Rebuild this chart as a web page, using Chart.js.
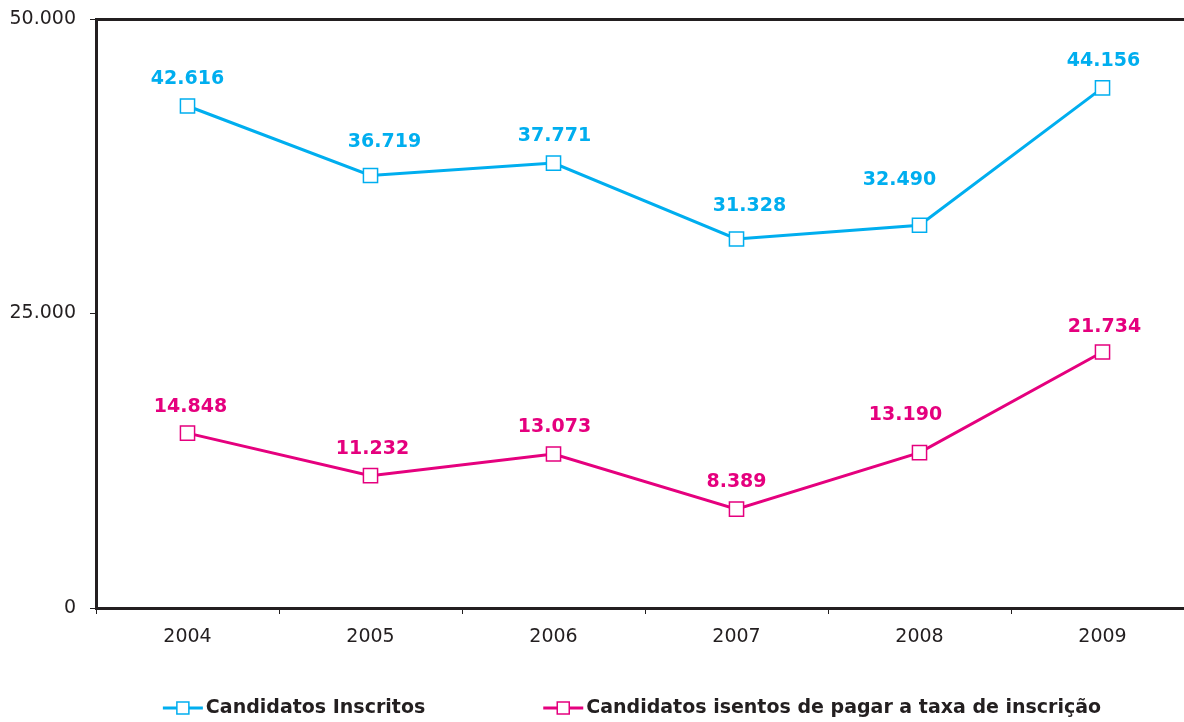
<!DOCTYPE html>
<html lang="pt">
  <head>
    <meta charset="UTF-8" />
    <title>Candidatos</title>
    <style>
      html, body { margin: 0; padding: 0; background: #fff; overflow: hidden; }
    </style>
  </head>
  <body>
    <canvas id="chart" width="1264" height="722" style="width:1264px;height:722px"></canvas>
    <script src="https://cdn.jsdelivr.net/npm/chart.js@4.4.0/dist/chart.umd.min.js"></script>
    <script>
      // data
      const years = ["2004", "2005", "2006", "2007", "2008", "2009"];
      const inscritos = [42616, 36719, 37771, 31328, 32490, 44156];
      const isentos = [14848, 11232, 13073, 8389, 13190, 21734];
      const yTicks = [0, 25000, 50000];

      // label nudges (px) so numbers sit like in the original
      const inscritosLabelShift = [[0, -27], [14, -33], [1, -27], [13, -33], [-20, -45], [1, -27]];
      const isentosLabelShift = [[3, -26], [2, -27], [1, -27], [0, -27], [-14, -38], [2, -25]];

      const blue = "#00aeef";
      const pink = "#e5007e";
      const ink = "#231f20";
      const fam = "'DejaVu Sans', Verdana, sans-serif";

      const fmt = (v) => String(v).replace(/\B(?=(\d{3})+(?!\d))/g, ".");

      const valueLabels = {
        id: "valueLabels",
        afterDatasetsDraw(chart) {
          const ctx = chart.ctx;
          ctx.save();
          ctx.font = "bold 19px " + fam;
          ctx.textAlign = "center";
          ctx.textBaseline = "middle";
          chart.data.datasets.forEach((ds, i) => {
            const meta = chart.getDatasetMeta(i);
            meta.data.forEach((pt, j) => {
              const s = ds.labelShift[j];
              ctx.fillStyle = ds.borderColor;
              ctx.fillText(fmt(ds.data[j]), pt.x + s[0], pt.y + s[1]);
            });
          });
          ctx.restore();
        },
      };

      const bottomLegend = {
        id: "bottomLegend",
        afterDraw(chart) {
          const ctx = chart.ctx;
          ctx.save();
          ctx.font = "bold 19px " + fam;
          ctx.textBaseline = "middle";
          const mark = 40, gap = 3, between = 118;
          const items = chart.data.datasets.map((ds) => ({
            ds: ds,
            w: mark + gap + ctx.measureText(ds.label).width,
          }));
          const total = items.reduce((a, it) => a + it.w, 0) + between * (items.length - 1);
          let x = chart.width / 2 - total / 2;
          const y = 708;
          items.forEach((it) => {
            ctx.strokeStyle = it.ds.borderColor;
            ctx.lineWidth = 3;
            ctx.beginPath();
            ctx.moveTo(x, y);
            ctx.lineTo(x + mark, y);
            ctx.stroke();
            ctx.fillStyle = "#fff";
            ctx.lineWidth = 1.5;
            ctx.fillRect(x + mark / 2 - 6, y - 6, 12, 12);
            ctx.strokeRect(x + mark / 2 - 6, y - 6, 12, 12);
            ctx.fillStyle = ink;
            ctx.fillText(it.ds.label, x + mark + gap, y);
            x += it.w + between;
          });
          ctx.restore();
        },
      };

      const makeSet = (label, data, color, shift) => ({
        label: label,
        data: data,
        borderColor: color,
        backgroundColor: "#fff",
        borderWidth: 3,
        pointStyle: "rect",
        pointRadius: 10,
        pointHoverRadius: 10,
        pointBorderWidth: 1.5,
        pointBackgroundColor: "#fff",
        pointBorderColor: color,
        tension: 0,
        labelShift: shift,
      });

      new Chart(document.getElementById("chart"), {
        type: "line",
        data: {
          labels: years,
          datasets: [
            makeSet("Candidatos Inscritos", inscritos, blue, inscritosLabelShift),
            makeSet("Candidatos isentos de pagar a taxa de inscrição", isentos, pink, isentosLabelShift),
          ],
        },
        options: {
          responsive: false,
          animation: false,
          devicePixelRatio: 1,
          layout: { padding: { top: 19, right: 70, bottom: 64, left: 0 } },
          plugins: { legend: { display: false }, tooltip: { enabled: false } },
          scales: {
            x: {
              offset: true,
              grid: { offset: true, drawOnChartArea: false, drawTicks: true, tickLength: 6, color: ink, lineWidth: 1 },
              border: { display: true, color: ink, width: 3 },
              ticks: { color: ink, font: { family: fam, size: 19 }, padding: 12, maxRotation: 0 },
              afterFit: (s) => { s.height = 50; s.paddingLeft = 0; s.paddingRight = 0; },
            },
            x2: {
              position: "top",
              type: "category",
              labels: years,
              offset: true,
              grid: { display: false },
              border: { display: true, color: ink, width: 3 },
              ticks: { display: false },
              afterFit: (s) => { s.height = 0; s.paddingLeft = 0; s.paddingRight = 0; },
            },
            y: {
              min: 0,
              max: 50000,
              afterBuildTicks: (s) => { s.ticks = yTicks.map((v) => ({ value: v })); },
              grid: { drawOnChartArea: false, drawTicks: true, tickLength: 6, color: ink },
              border: { display: true, color: ink, width: 3 },
              ticks: { color: ink, font: { family: fam, size: 19 }, padding: 14, callback: (v) => fmt(v) },
              afterFit: (s) => { s.width = 96; s.paddingTop = 0; s.paddingBottom = 0; },
            },
          },
        },
        plugins: [valueLabels, bottomLegend],
      });
    </script>
  </body>
</html>
